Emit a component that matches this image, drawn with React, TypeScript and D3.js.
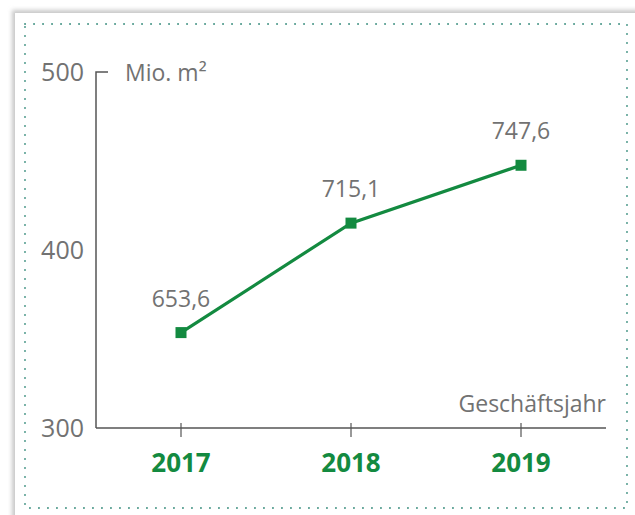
import * as d3 from "d3";
import { useEffect, useRef } from "react";

const years = ["2017", "2018", "2019"];
const values = [653.6, 715.1, 747.6];
const valueLabels = ["653,6", "715,1", "747,6"];
const yTicks = [600, 700, 800];
const yTickLabels = ["300", "400", "500"];

export default function App() {
  const ref = useRef<HTMLDivElement>(null);

  useEffect(() => {
    const width = 635;
    const height = 515;
    const green = "#138a40";
    const grey = "#727272";
    const font = "'Open Sans', 'Noto Sans', sans-serif";

    d3.select(ref.current).select("svg").remove();

    const svg = d3
      .select(ref.current)
      .append("svg")
      .attr("width", width)
      .attr("height", height)
      .style("display", "block")
      .style("font-family", font);

    // card with soft shadow
    const defs = svg.append("defs");
    defs
      .append("filter")
      .attr("id", "blur")
      .attr("x", "-10%")
      .attr("y", "-10%")
      .attr("width", "120%")
      .attr("height", "120%")
      .append("feGaussianBlur")
      .attr("stdDeviation", 2);

    svg.append("rect").attr("width", width).attr("height", height).attr("fill", "#fff");
    svg
      .append("rect")
      .attr("x", 12)
      .attr("y", 10)
      .attr("width", width)
      .attr("height", height)
      .attr("fill", "#c8c8c8")
      .attr("filter", "url(#blur)");
    svg
      .append("rect")
      .attr("x", 15)
      .attr("y", 13)
      .attr("width", width)
      .attr("height", height)
      .attr("fill", "#fff");

    // dotted frame
    svg
      .append("rect")
      .attr("x", 25)
      .attr("y", 24)
      .attr("width", 602)
      .attr("height", 484)
      .attr("fill", "none")
      .attr("stroke", "#4f9a8c")
      .attr("stroke-width", 2)
      .attr("stroke-linecap", "round")
      .attr("stroke-dasharray", "0.1 8.9");

    const left = 96;
    const right = 606;
    const top = 72;
    const bottom = 428;

    const x = d3.scaleBand().domain(years).range([left, right]).padding(0);
    const cx = (d: string) => (x(d) as number) + x.bandwidth() / 2;

    const y = d3.scaleLinear().domain([600, 800]).range([bottom, top]);

    // y axis
    const yAxis = svg
      .append("g")
      .attr("transform", `translate(${left},0)`)
      .call(
        d3
          .axisLeft(y)
          .tickValues(yTicks)
          .tickSize(0)
          .tickPadding(12)
          .tickFormat((d, i) => yTickLabels[i])
      );
    yAxis.select(".domain").remove();
    yAxis
      .selectAll("text")
      .attr("fill", grey)
      .attr("font-size", 25)
      .attr("font-family", font);

    svg
      .append("path")
      .attr("d", `M${left + 12},${top}H${left}V${bottom}`)
      .attr("fill", "none")
      .attr("stroke", "#555")
      .attr("stroke-width", 1.5);

    // x axis
    const xAxis = svg
      .append("g")
      .attr("transform", `translate(0,${bottom})`)
      .call(d3.axisBottom(x).tickSize(9).tickSizeOuter(0));
    xAxis
      .select(".domain")
      .attr("stroke", "#555")
      .attr("stroke-width", 1.5)
      .attr("d", `M${left},0H${right}`);
    xAxis
      .selectAll(".tick line")
      .attr("stroke", "#555")
      .attr("stroke-width", 1.2)
      .attr("y1", -5);
    xAxis
      .selectAll("text")
      .attr("y", 44)
      .attr("dy", 0)
      .attr("fill", green)
      .attr("font-size", 26)
      .attr("font-weight", "bold")
      .attr("font-family", font);

    // axis titles
    svg
      .append("text")
      .attr("x", 125)
      .attr("y", 81)
      .attr("fill", grey)
      .attr("font-size", 23)
      .text("Mio. m²");
    svg
      .append("text")
      .attr("x", right)
      .attr("y", 412)
      .attr("text-anchor", "end")
      .attr("fill", grey)
      .attr("font-size", 23)
      .text("Geschäftsjahr");

    // line
    const line = d3
      .line<number>()
      .x((d, i) => cx(years[i]))
      .y((d) => y(d));

    svg
      .append("path")
      .datum(values)
      .attr("d", line)
      .attr("fill", "none")
      .attr("stroke", green)
      .attr("stroke-width", 3.2);

    svg
      .selectAll("rect.pt")
      .data(values)
      .enter()
      .append("rect")
      .attr("class", "pt")
      .attr("x", (d, i) => cx(years[i]) - 5.5)
      .attr("y", (d) => y(d) - 5.5)
      .attr("width", 11)
      .attr("height", 11)
      .attr("fill", green);

    svg
      .selectAll("text.val")
      .data(values)
      .enter()
      .append("text")
      .attr("class", "val")
      .attr("x", (d, i) => cx(years[i]))
      .attr("y", (d) => y(d) - 26)
      .attr("text-anchor", "middle")
      .attr("fill", grey)
      .attr("font-size", 23)
      .text((d, i) => valueLabels[i]);
  }, []);

  return <div ref={ref} style={{ position: "absolute", left: 0, top: 0 }}></div>;
}
